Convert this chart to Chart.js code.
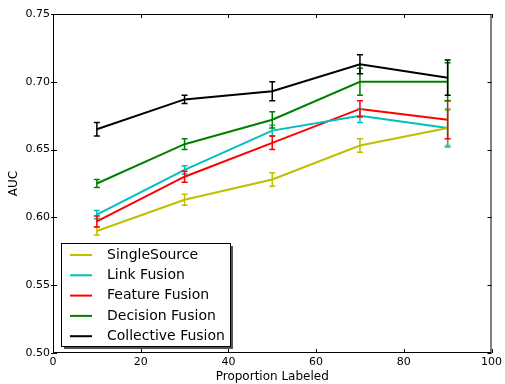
<!DOCTYPE html>
<html>
<head>
<meta charset="utf-8">
<script src="https://cdn.jsdelivr.net/npm/chart.js@4/dist/chart.umd.min.js"></script>
<style>
  html, body { margin: 0; padding: 0; background: #fff; }
  #wrap { width: 505px; height: 384px; }
</style>
</head>
<body>
<div id="wrap"><canvas id="auc"></canvas></div>
<script>
// proportion labeled (x positions)
const proportions = [10, 30, 50, 70, 90];

const seriesNames = ["SingleSource", "Link Fusion", "Feature Fusion", "Decision Fusion", "Collective Fusion"];
const seriesColors = ["#bfbf00", "#00bfbf", "#ff0000", "#008000", "#000000"];

// AUC means
const singleSource = [0.590, 0.613, 0.628, 0.653, 0.666];
const linkFusion = [0.602, 0.635, 0.664, 0.675, 0.666];
const featureFusion = [0.597, 0.630, 0.655, 0.680, 0.672];
const decisionFusion = [0.625, 0.654, 0.672, 0.700, 0.700];
const collectiveFusion = [0.665, 0.687, 0.693, 0.713, 0.703];

// error bar half widths
const singleSourceErr = [0.003, 0.004, 0.005, 0.005, 0.013];
const linkFusionErr = [0.003, 0.003, 0.004, 0.005, 0.014];
const featureFusionErr = [0.004, 0.004, 0.005, 0.006, 0.014];
const decisionFusionErr = [0.003, 0.004, 0.006, 0.010, 0.014];
const collectiveFusionErr = [0.005, 0.003, 0.007, 0.007, 0.013];

const xTicks = [0, 20, 40, 60, 80, 100];
const yTicks = [0.50, 0.55, 0.60, 0.65, 0.70, 0.75];

const allMeans = [singleSource, linkFusion, featureFusion, decisionFusion, collectiveFusion];
const allErrs = [singleSourceErr, linkFusionErr, featureFusionErr, decisionFusionErr, collectiveFusionErr];

const fontFam = "'DejaVu Sans', sans-serif";

var datasets = allMeans.map((vals, i) => ({
    label: seriesNames[i],
    data: vals.map((v, j) => ({x: proportions[j], y: v})),
    borderColor: seriesColors[i],
    backgroundColor: seriesColors[i],
    borderWidth: 2,
    pointRadius: 0,
    tension: 0,
    errs: allErrs[i]
}));

// error bars, frame, ticks, legend box
var mplPlugin = {
    id: "mplPlugin",
    afterDatasetsDraw(chart) {
        const ctx = chart.ctx;
        const xs = chart.scales.x, ys = chart.scales.y;
        ctx.save();
        chart.data.datasets.forEach((ds) => {
            ctx.strokeStyle = ds.borderColor;
            ctx.lineWidth = 1.5;
            ds.data.forEach((p, j) => {
                const px = xs.getPixelForValue(p.x);
                const top = ys.getPixelForValue(p.y + ds.errs[j]);
                const bot = ys.getPixelForValue(p.y - ds.errs[j]);
                ctx.beginPath();
                ctx.moveTo(px, top); ctx.lineTo(px, bot);
                ctx.moveTo(px - 3, top); ctx.lineTo(px + 3, top);
                ctx.moveTo(px - 3, bot); ctx.lineTo(px + 3, bot);
                ctx.stroke();
            });
        });

        const a = chart.chartArea;
        ctx.strokeStyle = "#000";
        ctx.lineWidth = 1;
        ctx.strokeRect(a.left + 0.5, a.top + 0.5, a.right - a.left - 1, a.bottom - a.top - 1);
        ctx.beginPath();
        xTicks.forEach(t => {
            const px = Math.round(xs.getPixelForValue(t)) + 0.5;
            ctx.moveTo(px, a.bottom); ctx.lineTo(px, a.bottom - 4);
            ctx.moveTo(px, a.top); ctx.lineTo(px, a.top + 4);
        });
        yTicks.forEach(t => {
            const py = Math.round(ys.getPixelForValue(t)) + 0.5;
            ctx.moveTo(a.left - 2, py); ctx.lineTo(a.left + 4, py);
            ctx.moveTo(a.right, py); ctx.lineTo(a.right - 4, py);
        });
        ctx.stroke();

        // legend
        const lx = a.left + 8, ly = 243, lw = 169, lh = 103;
        ctx.fillStyle = "#555";
        ctx.fillRect(lx + 3, ly + 3, lw, lh);
        ctx.fillStyle = "#fff";
        ctx.fillRect(lx, ly, lw, lh);
        ctx.strokeStyle = "#000";
        ctx.strokeRect(lx + 0.5, ly + 0.5, lw, lh);
        ctx.font = "14px " + fontFam;
        ctx.textBaseline = "middle";
        seriesNames.forEach((name, i) => {
            const ry = ly + 12 + i * 20.3;
            ctx.strokeStyle = seriesColors[i];
            ctx.lineWidth = 2;
            ctx.beginPath();
            ctx.moveTo(lx + 9, ry); ctx.lineTo(lx + 31, ry);
            ctx.stroke();
            ctx.fillStyle = "#000";
            ctx.fillText(name, lx + 46, ry);
        });
        ctx.restore();
    }
};

new Chart(document.getElementById("auc"), {
    type: "line",
    data: { datasets },
    options: {
        responsive: true,
        maintainAspectRatio: false,
        animation: false,
        layout: { padding: { top: 14, right: 12, left: 0, bottom: 0 } },
        plugins: { legend: { display: false }, tooltip: { enabled: false } },
        scales: {
            x: {
                type: "linear",
                min: 0, max: 100,
                afterBuildTicks: (s) => { s.ticks = xTicks.map(v => ({value: v})); },
                afterFit: (s) => { s.height = 31; },
                grid: { display: false, drawTicks: false },
                border: { display: false },
                ticks: { color: "#000", font: { family: fontFam, size: 11 }, padding: 3, maxRotation: 0 },
                title: { display: true, text: "Proportion Labeled", color: "#000", font: { family: fontFam, size: 12 }, padding: { top: 0, bottom: 0 } }
            },
            y: {
                min: 0.5, max: 0.75,
                afterBuildTicks: (s) => { s.ticks = yTicks.map(v => ({value: v})); },
                afterFit: (s) => { s.width = 53; },
                grid: { display: false, drawTicks: false },
                border: { display: false },
                ticks: { color: "#000", font: { family: fontFam, size: 11 }, padding: 3, callback: v => v.toFixed(2) },
                title: { display: true, text: "AUC", color: "#000", font: { family: fontFam, size: 12 }, padding: { top: 7, bottom: 4 } }
            }
        }
    },
    plugins: [mplPlugin]
});
</script>
</body>
</html>
